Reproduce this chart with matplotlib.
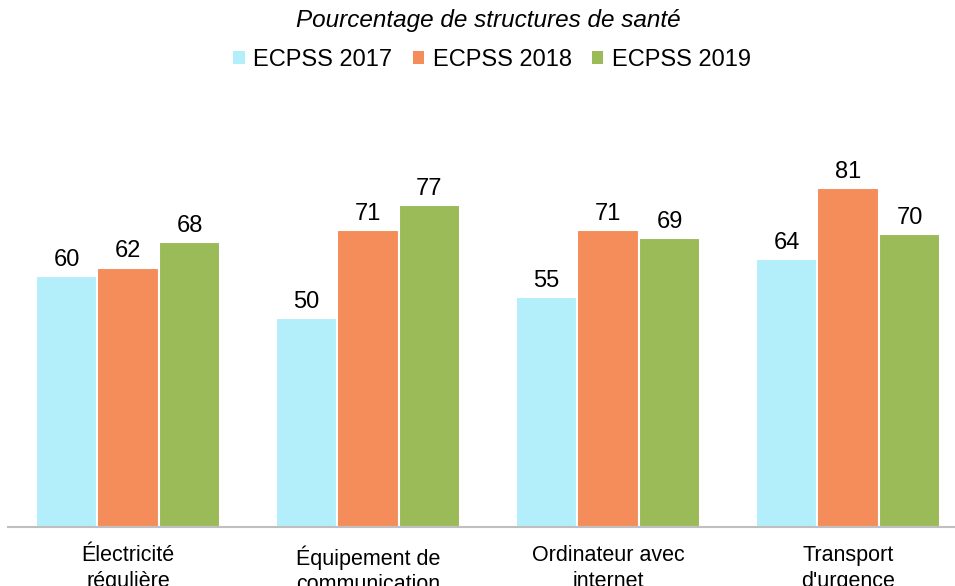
import matplotlib
matplotlib.use("Agg")
import matplotlib.pyplot as plt
from matplotlib.patches import Patch
import numpy as np

plt.rcParams['font.family'] = ['Liberation Sans', 'DejaVu Sans']

categories = ["Électricité\nrégulière", "Équipement de\ncommunication", "Ordinateur avec\ninternet", "Transport\nd'urgence"]
series = ["ECPSS 2017", "ECPSS 2018", "ECPSS 2019"]
v2017 = [60, 50, 55, 64]
v2018 = [62, 71, 71, 81]
v2019 = [68, 77, 69, 70]
colors = ["#B3EEFB", "#F58D5A", "#9BBB59"]

fig = plt.figure(figsize=(9.55, 5.86), dpi=100)
W, H = 955, 586
left, right = 8, 968
bottom, top = 527, 108.5
ax = fig.add_axes([left / W, 1 - bottom / H, (right - left) / W, (bottom - top) / H])

x = np.arange(len(categories))
bw = 0.256
for i, (vals, c) in enumerate(zip([v2017, v2018, v2019], colors)):
    xs = x + (i - 1) * bw
    ax.bar(xs, vals, width=bw, color=c, edgecolor="white", linewidth=1.5, zorder=2)
    for xi, v in zip(xs, vals):
        ax.text(xi, v + 2.4, f"{v}", ha="center", va="baseline", fontsize=17, color="#000000")

ax.set_xlim(-0.5, 3.5)
ax.set_ylim(0, 100)
ax.set_yticks([])
ax.set_xticks(x)
ax.set_xticklabels(categories, fontsize=15.5, linespacing=1.3)
ax.tick_params(axis='x', length=0, pad=13)
for s in ["top", "right", "left"]:
    ax.spines[s].set_visible(False)
ax.spines["bottom"].set_color("#BFBFBF")
ax.spines["bottom"].set_linewidth(1.5)

fig.text(488 / W, 1 - 20 / H, "Pourcentage de structures de santé", ha="center", va="center",
         fontsize=17.5, style="italic")
handles = [Patch(facecolor=c, edgecolor="none") for c in colors]
fig.legend(handles, series, loc="center", bbox_to_anchor=(492 / W, 1 - 60 / H), ncol=3,
           frameon=False, fontsize=17, handlelength=0.5, handleheight=0.5,
           handletextpad=0.35, columnspacing=0.85)

fig.savefig("out.png", dpi=100)
